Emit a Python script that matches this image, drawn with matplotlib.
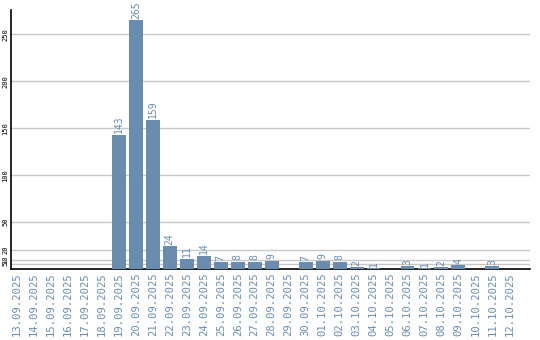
import matplotlib
matplotlib.use("Agg")
from matplotlib import pyplot as plt

dates = ["13.09.2025", "14.09.2025", "15.09.2025", "16.09.2025", "17.09.2025",
         "18.09.2025", "19.09.2025", "20.09.2025", "21.09.2025", "22.09.2025",
         "23.09.2025", "24.09.2025", "25.09.2025", "26.09.2025", "27.09.2025",
         "28.09.2025", "29.09.2025", "30.09.2025", "01.10.2025", "02.10.2025",
         "03.10.2025", "04.10.2025", "05.10.2025", "06.10.2025", "07.10.2025",
         "08.10.2025", "09.10.2025", "10.10.2025", "11.10.2025", "12.10.2025"]
counts = [0, 0, 0, 0, 0, 0, 143, 265, 159, 24, 11, 14, 7, 8, 8, 9, 0, 7, 9, 8,
          2, 1, 0, 3, 1, 2, 4, 0, 3, 0]
yticks = [5, 10, 20, 50, 100, 150, 200, 250]

bar_color = "#6a8caf"
text_color = "#6a8caf"

fig = plt.figure(figsize=(5.4, 3.4), dpi=100)
ax = fig.add_axes([0.0204, 0.2088, 0.9606, 0.7618])

x = list(range(len(dates)))
ax.bar(x, counts, width=0.82, color=bar_color, zorder=3)

for xi, v in zip(x, counts):
    if v > 0:
        ax.text(xi, v + 1.5, str(v), rotation=90, ha="center", va="bottom",
                color=text_color, fontsize=7, family="DejaVu Sans Mono")

ax.set_xlim(-0.35, 30.2)
ax.set_ylim(0, 276)
ax.set_yticks(yticks)
ax.set_yticklabels([str(t) for t in yticks], rotation=90, va="center",
                   fontsize=5, family="DejaVu Sans Mono")
ax.set_xticks(x)
ax.set_xticklabels(dates, rotation=90, fontsize=7.6, color=text_color,
                   family="DejaVu Sans Mono")
ax.tick_params(axis="both", length=0, pad=2)
ax.grid(axis="y", color="#c8c8c8", linewidth=1, zorder=0)
ax.spines["top"].set_visible(False)
ax.spines["right"].set_visible(False)
ax.spines["left"].set_linewidth(1.2)
ax.spines["bottom"].set_linewidth(1.2)

fig.savefig("out.png", dpi=100)
